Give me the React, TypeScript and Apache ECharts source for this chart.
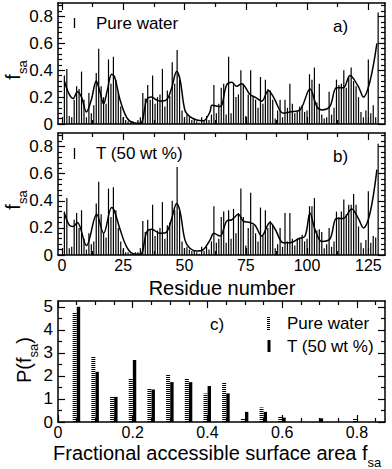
import React, { useEffect, useRef } from "react";
import * as echarts from "echarts";

const FONT = "'Liberation Sans', Arial, Helvetica, sans-serif";

// Residue numbers (1..129)
const residues: number[] = Array.from({ length: 129 }, (_, i) => i + 1);

// Panel a) fractional accessible surface area per residue, pure water
const fsaWater: number[] = [
  0.36, 0.41, 0.06, 0.05, 0.18, 0.28, 0.26, 0.39, 0.18, 0.05,
  0.23, 0.08, 0.14, 0.38, 0.56, 0.28, 0.2, 0.15, 0.48, 0.3,
  0.5, 0.33, 0.23, 0.13, 0.05, 0.03, 0.02, 0.01, 0.02, 0.01,
  0.03, 0.05, 0.23, 0.19, 0.29, 0.18, 0.36, 0.15, 0.2, 0.22,
  0.41, 0.13, 0.25, 0.21, 0.46, 0.3, 0.55, 0.33, 0.1, 0.04,
  0.07, 0.05, 0.03, 0.04, 0.02, 0.01, 0.05, 0.03, 0.06, 0.03,
  0.07, 0.29, 0.08, 0.15, 0.27, 0.3, 0.07, 0.5, 0.08, 0.3,
  0.2, 0.22, 0.4, 0.3, 0.06, 0.22, 0.4, 0.2, 0.18, 0.12,
  0.35, 0.15, 0.33, 0.26, 0.25, 0.18, 0.04, 0.1, 0.18, 0.05,
  0.18, 0.12, 0.3, 0.15, 0.08, 0.09, 0.13, 0.14, 0.09, 0.1,
  0.37, 0.33, 0.42, 0.16, 0.3, 0.07, 0.04, 0.05, 0.24, 0.07,
  0.12, 0.33, 0.29, 0.3, 0.4, 0.27, 0.35, 0.42, 0.32, 0.28,
  0.2, 0.09, 0.05, 0.1, 0.48, 0.08, 0.14, 0.05, 0.83,
];

// Panel b) T (50 wt %)
const fsaT: number[] = [
  0.32, 0.42, 0.05, 0.06, 0.26, 0.31, 0.2, 0.33, 0.12, 0.04,
  0.16, 0.08, 0.1, 0.38, 0.54, 0.3, 0.16, 0.13, 0.49, 0.28,
  0.5, 0.33, 0.2, 0.1, 0.04, 0.02, 0.02, 0.01, 0.01, 0.02,
  0.02, 0.05, 0.25, 0.17, 0.26, 0.19, 0.37, 0.14, 0.18, 0.2,
  0.39, 0.12, 0.22, 0.24, 0.4, 0.33, 0.65, 0.32, 0.1, 0.05,
  0.06, 0.04, 0.03, 0.03, 0.02, 0.01, 0.06, 0.03, 0.06, 0.04,
  0.1, 0.36, 0.09, 0.12, 0.28, 0.32, 0.09, 0.33, 0.12, 0.34,
  0.16, 0.31, 0.49, 0.28, 0.07, 0.2, 0.46, 0.22, 0.16, 0.1,
  0.35, 0.14, 0.33, 0.2, 0.25, 0.22, 0.05, 0.08, 0.2, 0.06,
  0.31, 0.1, 0.31, 0.12, 0.07, 0.12, 0.13, 0.15, 0.1, 0.12,
  0.36, 0.36, 0.42, 0.18, 0.19, 0.17, 0.05, 0.08, 0.2, 0.06,
  0.1, 0.32, 0.28, 0.32, 0.41, 0.3, 0.37, 0.37, 0.45, 0.37,
  0.21, 0.09, 0.05, 0.11, 0.47, 0.09, 0.14, 0.13, 0.82,
];

// Smoothed curves: [residue, fsa]
const smoothWater: number[][] = [
  [1, 0.32], [3, 0.22], [4.6, 0.19], [6.3, 0.24], [8, 0.2], [10, 0.09], [12, 0.18],
  [14, 0.32], [15.5, 0.24], [17, 0.15], [18.5, 0.25], [20.3, 0.37], [21.5, 0.35],
  [23.7, 0.18], [26.4, 0.05], [29, 0.01], [32, 0.005], [34.6, 0.18], [36.6, 0.2],
  [38.5, 0.18], [40, 0.17], [42.7, 0.18], [44.8, 0.27], [46.8, 0.39], [48.2, 0.33],
  [50.2, 0.1], [52.2, 0.055], [55, 0.03], [57.7, 0.025], [60.4, 0.09], [61.2, 0.14],
  [64.5, 0.13], [67.2, 0.29], [69.3, 0.31], [71.3, 0.28], [73.3, 0.3], [76.7, 0.22],
  [78.8, 0.2], [81.5, 0.17], [84.2, 0.25], [86.3, 0.2], [90.3, 0.08], [93, 0.09],
  [97.1, 0.105], [101.2, 0.26], [104, 0.13], [106, 0.105], [109.3, 0.13], [112, 0.27],
  [114.8, 0.27], [117.5, 0.36], [120.9, 0.28], [123, 0.2], [125.7, 0.32], [128.5, 0.6],
];
const smoothT: number[][] = [
  [1, 0.31], [3, 0.22], [4.6, 0.21], [6.3, 0.24], [10, 0.07], [14.2, 0.3], [17, 0.16],
  [20.3, 0.35], [21.5, 0.32], [23.7, 0.19], [26.4, 0.06], [29, 0.01], [32, 0.005],
  [34.6, 0.17], [36.6, 0.19], [40, 0.16], [42.7, 0.17], [44.8, 0.27], [46.8, 0.38],
  [48.2, 0.32], [50.2, 0.11], [52.2, 0.05], [55, 0.03], [57.7, 0.04], [60.4, 0.11],
  [62, 0.16], [64.5, 0.14], [67.2, 0.25], [69.3, 0.26], [72, 0.3], [74, 0.25],
  [76.7, 0.24], [78.8, 0.22], [81.5, 0.14], [84.9, 0.24], [87, 0.19], [90.3, 0.09],
  [93, 0.09], [96.5, 0.12], [99.2, 0.14], [101.2, 0.31], [103.2, 0.19], [106, 0.1],
  [109.4, 0.12], [112, 0.27], [114.8, 0.27], [118.2, 0.34], [120.9, 0.27], [123, 0.2],
  [125.7, 0.31], [128.5, 0.63],
];

// Panel c) histogram P(fsa)
const histBins: number[] = [0.05, 0.1, 0.15, 0.2, 0.25, 0.3, 0.35, 0.4, 0.45, 0.5, 0.55, 0.6, 0.65, 0.7, 0.75, 0.8, 0.85];
const histWater: number[] = [4.76, 2.84, 1.12, 1.9, 1.44, 2.07, 1.9, 1.24, 1.7, 0.16, 0.63, 0.26, 0, 0, 0, 0.16, 0];
const histT: number[] = [5.0, 2.18, 1.09, 2.69, 1.41, 1.73, 1.73, 1.56, 1.24, 0.44, 0.44, 0.19, 0, 0.16, 0, 0, 0];

// Tick positions
const resMajor = [0, 25, 50, 75, 100, 125];
const resMinor = [12.5, 37.5, 62.5, 87.5, 112.5];
const fsaMajor = [0, 0.2, 0.4, 0.6, 0.8];
const fsaMinor = [0.04, 0.08, 0.12, 0.16, 0.24, 0.28, 0.32, 0.36, 0.44, 0.48, 0.52, 0.56, 0.64, 0.68, 0.72, 0.76, 0.84, 0.88];
const histXMajor = [0, 0.2, 0.4, 0.6, 0.8];
const histXMinor = [0.05, 0.1, 0.15, 0.25, 0.3, 0.35, 0.45, 0.5, 0.55, 0.65, 0.7, 0.75, 0.85];
const histYMajor = [0, 1, 2, 3, 4, 5];
const histYMinor = [0.5, 1.5, 2.5, 3.5, 4.5];

const lineStyleBlack = { color: "#000", width: 1.5 };
const tickStyle = { color: "#000", width: 1.2 };
const labelStyle = { fontSize: 17, color: "#000", fontFamily: FONT };

function buildAxes(
  grid: number,
  dim: "x" | "y",
  min: number,
  max: number,
  major: number[],
  minor: number[],
  showLabels: boolean,
  out: any[],
  labelMargin: number,
  labelSize: number
): number {
  const idx = out.length;
  const positions = dim === "x" ? ["bottom", "top"] : ["left", "right"];
  const base = {
    gridIndex: grid,
    type: "value",
    min,
    max,
    splitLine: { show: false },
  };
  positions.forEach((pos, k) => {
    out.push({
      ...base,
      position: pos,
      axisLine: { show: true, onZero: false, lineStyle: lineStyleBlack },
      axisTick: { show: true, inside: true, length: 7, customValues: major, lineStyle: tickStyle },
      axisLabel:
        k === 0 && showLabels
          ? { show: true, customValues: major, margin: labelMargin, ...labelStyle, fontSize: labelSize }
          : { show: false },
    });
  });
  positions.forEach((pos) => {
    out.push({
      ...base,
      position: pos,
      axisLine: { show: false, onZero: false },
      axisTick: { show: true, inside: true, length: 4, customValues: minor, lineStyle: tickStyle },
      axisLabel: { show: false },
    });
  });
  return idx;
}

export default function App() {
  const ref = useRef<HTMLDivElement>(null);

  useEffect(() => {
    if (!ref.current) return;
    const chart = echarts.init(ref.current, null, { renderer: "svg" });

    const xAxes: any[] = [];
    const yAxes: any[] = [];
    const grids = [
      { left: 58, top: 3, width: 327, height: 121 },
      { left: 58, top: 133, width: 327, height: 122 },
      { left: 58, top: 301, width: 327, height: 121 },
    ];

    const xa = buildAxes(0, "x", -1.6, 131.8, resMajor, resMinor, false, xAxes, 3, 17);
    const ya = buildAxes(0, "y", 0, 0.9, fsaMajor, fsaMinor, true, yAxes, 5, 17);
    const xb = buildAxes(1, "x", -1.6, 131.8, resMajor, resMinor, true, xAxes, 2, 16);
    const yb = buildAxes(1, "y", 0, 0.9, fsaMajor, fsaMinor, true, yAxes, 5, 17);
    const xc = buildAxes(2, "x", 0, 0.875, histXMajor, histXMinor, true, xAxes, 2, 16);
    const yc = buildAxes(2, "y", 0, 5.25, histYMajor, histYMinor, true, yAxes, 5, 17);

    const histRender = (offset: number, width: number, dash: number[] | null) =>
      (params: any, api: any) => {
        const x = api.value(0);
        const y = api.value(1);
        if (!y) return null;
        const p0 = api.coord([x, 0]);
        const p1 = api.coord([x, y]);
        return {
          type: "line",
          shape: { x1: p0[0] + offset, y1: p0[1], x2: p0[0] + offset, y2: p1[1] },
          style: { stroke: "#000", lineWidth: width, lineDash: dash || undefined },
        };
      };

    const subTitle = (text: string) => ({
      text,
      rich: {
        a: { fontSize: 20, fontFamily: FONT, fill: "#000", verticalAlign: "bottom", padding: [0, 0, 6, 0] },
        b: { fontSize: 13, fontFamily: FONT, fill: "#000", verticalAlign: "bottom" },
      },
    });

    const textStyle = (text: string, size = 17) => ({
      text,
      fontSize: size,
      fontFamily: FONT,
      fill: "#000",
      align: "left",
      verticalAlign: "middle",
    });

    const option: any = {
      animation: false,
      backgroundColor: "#fff",
      grid: grids,
      xAxis: xAxes,
      yAxis: yAxes,
      series: [
        {
          type: "bar",
          xAxisIndex: xa,
          yAxisIndex: ya,
          barWidth: 1.2,
          itemStyle: { color: "#000" },
          data: residues.map((r, i) => [r, fsaWater[i]]),
          silent: true,
        },
        {
          type: "line",
          xAxisIndex: xa,
          yAxisIndex: ya,
          smooth: 0.35,
          symbol: "none",
          lineStyle: { color: "#000", width: 1.5 },
          data: smoothWater,
          silent: true,
          z: 5,
        },
        {
          type: "bar",
          xAxisIndex: xb,
          yAxisIndex: yb,
          barWidth: 1.2,
          itemStyle: { color: "#000" },
          data: residues.map((r, i) => [r, fsaT[i]]),
          silent: true,
        },
        {
          type: "line",
          xAxisIndex: xb,
          yAxisIndex: yb,
          smooth: 0.35,
          symbol: "none",
          lineStyle: { color: "#000", width: 1.5 },
          data: smoothT,
          silent: true,
          z: 5,
        },
        {
          type: "custom",
          xAxisIndex: xc,
          yAxisIndex: yc,
          renderItem: histRender(-2, 4, [1, 1]),
          data: histBins.map((b, i) => [b, histWater[i]]),
          silent: true,
        },
        {
          type: "custom",
          xAxisIndex: xc,
          yAxisIndex: yc,
          renderItem: histRender(1.8, 3.4, null),
          data: histBins.map((b, i) => [b, histT[i]]),
          silent: true,
        },
      ],
      graphic: [
        // panel a legend
        { type: "line", shape: { x1: 74.5, y1: 18, x2: 74.5, y2: 28 }, style: { stroke: "#000", lineWidth: 1.3 } },
        { type: "text", x: 96, y: 23.5, style: textStyle("Pure water") },
        { type: "text", x: 333, y: 26, style: textStyle("a)") },
        // panel b legend
        { type: "line", shape: { x1: 74.5, y1: 148, x2: 74.5, y2: 159 }, style: { stroke: "#000", lineWidth: 1.3 } },
        { type: "text", x: 96, y: 153.5, style: textStyle("T (50 wt %)") },
        { type: "text", x: 333, y: 156, style: textStyle("b)") },
        // panel c
        { type: "text", x: 210, y: 324, style: textStyle("c)") },
        { type: "line", shape: { x1: 268.5, y1: 330, x2: 268.5, y2: 316 }, style: { stroke: "#000", lineWidth: 3, lineDash: [1, 1] } },
        { type: "text", x: 287, y: 323.5, style: textStyle("Pure water") },
        { type: "line", shape: { x1: 269, y1: 340, x2: 269, y2: 352 }, style: { stroke: "#000", lineWidth: 3 } },
        { type: "text", x: 287, y: 346, style: textStyle("T (50 wt %)") },
        // axis titles
        { type: "text", x: 16, y: 70, rotation: Math.PI / 2, style: { ...subTitle("{a|f}{b|sa}"), align: "center", verticalAlign: "middle" } },
        { type: "text", x: 16, y: 200, rotation: Math.PI / 2, style: { ...subTitle("{a|f}{b|sa}"), align: "center", verticalAlign: "middle" } },
        { type: "text", x: 222, y: 287.5, style: { text: "Residue number", fontSize: 20, fontFamily: FONT, fill: "#000", align: "center", verticalAlign: "middle" } },
        { type: "text", x: 27, y: 360, rotation: Math.PI / 2, style: { ...subTitle("{a|P(f}{b|sa}{a|)}"), align: "center", verticalAlign: "middle" } },
        { type: "text", x: 53, y: 456, style: { ...subTitle("{a|Fractional accessible surface area f}{b|sa}"), align: "left", verticalAlign: "middle" } },
      ],
    };

    chart.setOption(option);
    return () => chart.dispose();
  }, []);

  return (
    <div
      ref={ref}
      style={{ position: "fixed", left: 0, top: 0, width: 392, height: 469, background: "#fff" }}
    />
  );
}
